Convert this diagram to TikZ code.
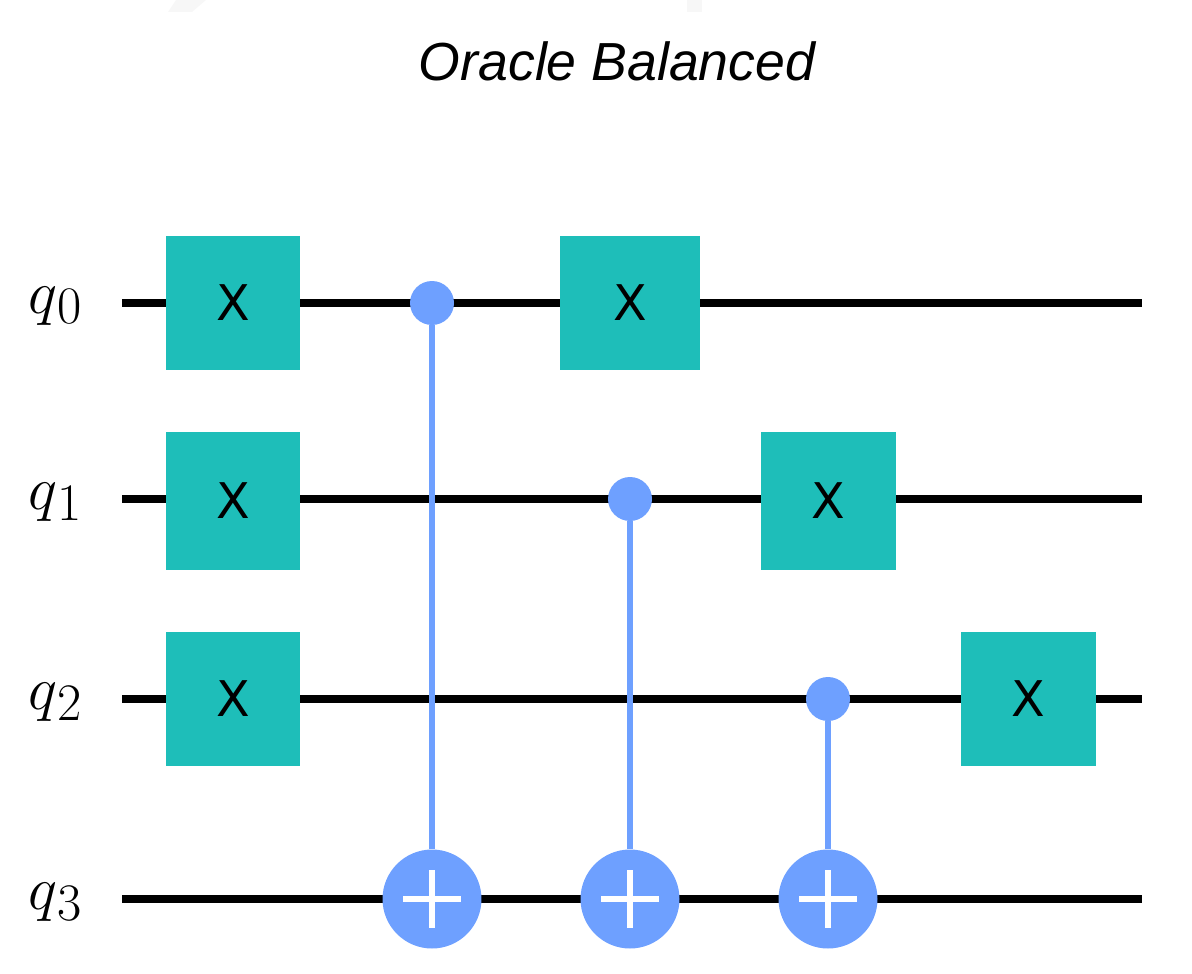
\documentclass[tikz,border=0pt]{standalone}
\usepackage{fix-cm}
\usepackage{fontspec}
\setsansfont{Liberation Sans}
\newfontfamily\gatefont{DejaVu Sans}
\definecolor{GateTeal}{RGB}{30, 190, 185}
\definecolor{CtrlBlue}{RGB}{110, 160, 255}
\begin{document}
\begin{tikzpicture}[
    x=0.02cm, y=-0.02cm,
    gate/.style={rectangle, fill=GateTeal, minimum width=2.7cm, minimum height=2.7cm, inner sep=0pt, font=\gatefont\fontsize{28}{28}\selectfont},
    ctrl/.style={circle, fill=CtrlBlue, minimum size=0.88cm, inner sep=0pt},
    target/.style={circle, fill=CtrlBlue, minimum size=1.98cm, inner sep=0pt},
    wire/.style={black, line width=4.2pt},
    link/.style={CtrlBlue, line width=3.8pt},
    plus/.style={white, line width=3.8pt},
    qlabel/.style={font=\fontsize{35}{35}\selectfont, anchor=base east, inner sep=0pt}
]
\useasboundingbox (0,0) rectangle (1192,973);

% === TOP EDGE SMUDGES ===
\fill[black!3] (168,12) -- (176,0) -- (206,0) -- (192,12) -- cycle;
\fill[black!3] (687,12) -- (687,0) -- (702,0) -- (702,12) -- cycle;

% === TITLE ===
\node[font=\sffamily\itshape\fontsize{30.5}{30.5}\selectfont] (title) at (617,61) {Oracle Balanced};

% === WIRES ===
\foreach \i/\y in {0/303, 1/499, 2/699, 3/899} {
    \coordinate (in\i) at (122,\y);
    \coordinate (out\i) at (1142,\y);
    \draw[wire] (in\i) -- (out\i);
    \node[qlabel] (q\i) at (82,\y+10) {$q$\raisebox{-0.22cm}{\fontsize{30}{30}\selectfont\i}};
}

% === CONTROLLED GATES ===
\node[target] (t0) at (432,899) {};
\node[target] (t1) at (630,899) {};
\node[target] (t2) at (828,899) {};
\node[ctrl] (c0) at (432,303) {};
\node[ctrl] (c1) at (630,499) {};
\node[ctrl] (c2) at (828,699) {};

\foreach \i in {0,1,2} {
    \draw[link] (c\i) -- (t\i);
    \draw[plus] ([yshift=0.58cm]t\i.center) -- ([yshift=-0.58cm]t\i.center);
    \draw[plus] ([xshift=-0.58cm]t\i.center) -- ([xshift=0.58cm]t\i.center);
}

% === X GATES ===
\node[gate] (x0) at (233,303) {X};
\node[gate, minimum height=2.78cm] (x1) at (233,501) {X};
\node[gate] (x2) at (233,699) {X};
\node[gate, minimum width=2.8cm] (x3) at (630,303) {X};
\node[gate, minimum height=2.78cm] (x4) at (828,501) {X};
\node[gate] (x5) at (1028,699) {X};

\end{tikzpicture}
\end{document}
